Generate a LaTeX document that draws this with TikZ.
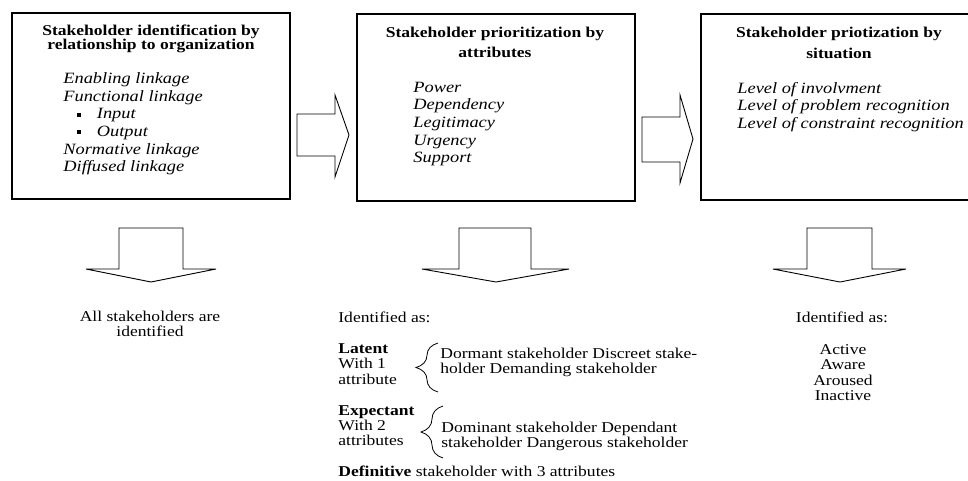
\documentclass[tikz,border=0pt]{standalone}
\usepackage{fontspec}
\setmainfont{Liberation Serif}[FakeStretch=1.17]
\usepackage{tikz}
\usetikzlibrary{positioning,decorations.pathreplacing}
\tikzset{
  every picture/.style={color=black, line width=0.8pt},
  box/.style={draw, line width=1.2pt, minimum width=278pt, minimum height=186pt, inner sep=0pt},
  head/.style={font=\fontsize{15}{20}\selectfont\bfseries, align=center, inner sep=0pt, anchor=base},
  items/.style={font=\fontsize{15.7}{17.7}\selectfont\itshape, align=left, inner sep=0pt, anchor=base west},
  txt/.style={font=\fontsize{15}{15.5}\selectfont, inner sep=0pt},
  blk/.style={draw, line width=0.9pt, line join=miter},
  curly/.style={decorate, decoration={brace, amplitude=22pt}, line width=0.8pt},
}
\newcommand{\sqbul}{\hspace*{13.5pt}\raisebox{2pt}{\rule{4pt}{4pt}}\hspace{16pt}}

\begin{document}
\begin{tikzpicture}[x=1pt, y=-1pt]
  \useasboundingbox (0,0) rectangle (968,480);
  % the three stages
  \node[box] (rel) at (151,106) {};
  \node[box, minimum height=187pt] (attr) at (496,107.5) {};
  \node[box, minimum width=276pt] (sit) at (839,107) {};
  % multi-line nodes sit on the baseline of their last line
  \node[head, font=\fontsize{15}{14.5}\selectfont\bfseries] (relT) at (151,49.5) {Stakeholder identification by\\relationship to organization};
  \node[head] (attrT) at (495,57) {Stakeholder prioritization by\\attributes};
  \node[head, font=\fontsize{15}{21}\selectfont\bfseries] (sitT) at (839,58) {Stakeholder priotization by\\situation};
  \node[items] (relL) at (63,171.8) {Enabling linkage\\Functional linkage\\\sqbul Input\\\sqbul Output\\Normative linkage\\Diffused linkage};
  \node[items] (attrL) at (413,162.8) {Power\\Dependency\\Legitimacy\\Urgency\\Support};
  \node[items] (sitL) at (737,128.4) {Level of involvment\\Level of problem recognition\\Level of constraint recognition};
  % block arrows
  \draw[blk] (297,114) -- (335,114) -- (335,95) -- (349,135) -- (335,177) -- (335,156) -- (297,156) -- cycle;
  \draw[blk] (642,117) -- (680,117) -- (680,95) -- (693,139) -- (680,183) -- (680,162) -- (642,162) -- cycle;
  \draw[blk] (119,228) -- (183,228) -- (183,269) -- (216,269) -- (151,282) -- (86,269) -- (119,269) -- cycle;
  \draw[blk] (459,228) -- (531,228) -- (531,269) -- (569,269) -- (496,282) -- (422,269) -- (459,269) -- cycle;
  \draw[blk] (807,228) -- (872,228) -- (872,269) -- (906,269) -- (840,282) -- (773,269) -- (807,269) -- cycle;
  % results
  \node[txt, align=center, anchor=base, font=\fontsize{15}{15}\selectfont] (allR) at (150,336) {All stakeholders are\\identified};
  \node[txt, anchor=base west] (idA) at (338,322) {Identified as:};
  \node[txt, align=left, anchor=base west] (lat) at (338,384) {\textbf{Latent}\\With 1\\attribute};
  \node[txt, align=left, anchor=base west, font=\fontsize{15}{15}\selectfont] (latD) at (440,373) {Dormant stakeholder Discreet stake-\\holder Demanding stakeholder};
  \node[txt, align=left, anchor=base west, font=\fontsize{15}{15}\selectfont] (exp) at (338,445) {\textbf{Expectant}\\With 2\\attributes};
  \node[txt, align=left, anchor=base west, font=\fontsize{15}{15}\selectfont] (expD) at (441,447) {Dominant stakeholder Dependant\\stakeholder Dangerous stakeholder};
  \node[txt, anchor=base west] (defi) at (338,476) {\textbf{Definitive} stakeholder with 3 attributes};
  \draw[curly] (438,392) -- (438,343);
  \draw[curly] (443,458) -- (443,406);
  \node[txt, anchor=base] (idB) at (842,322) {Identified as:};
  \node[txt, align=center, anchor=base] (sitR) at (843,400.5) {Active\\Aware\\Aroused\\Inactive};
\end{tikzpicture}
\end{document}
